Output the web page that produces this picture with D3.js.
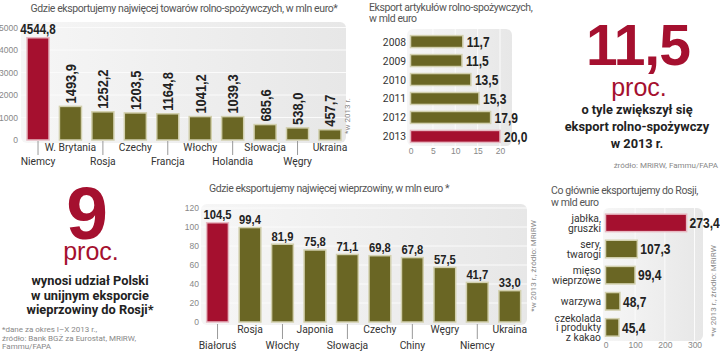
<!DOCTYPE html>
<html>
<head>
<meta charset="utf-8">
<script src="https://cdn.jsdelivr.net/npm/d3@7"></script>
<style>
  body { margin: 0; background: #fff; }
  svg { display: block; font-family: Roboto, "Liberation Sans", sans-serif; }
  .title { font-size: 10.5px; fill: #555; letter-spacing: -0.4px; }
  .tick text { fill: #888; font-size: 8.5px; }
  .val { font-family: "Liberation Sans", Arial, sans-serif; font-weight: bold; fill: #222; }
  .cat { font-size: 10.3px; fill: #333; }
  .note { font-size: 8px; fill: #888; }
  .big { font-weight: bold; font-size: 12.8px; fill: #222; }
</style>
</head>
<body>
<svg id="chart" width="720" height="352"></svg>
<script>
// dane
const exportCountries = ["Niemcy", "W. Brytania", "Rosja", "Czechy", "Francja", "Włochy", "Holandia", "Słowacja", "Węgry", "Ukraina"];
const exportValues = [4544.8, 1493.9, 1252.2, 1203.5, 1164.8, 1041.2, 1039.3, 685.6, 538.0, 457.7];
const exportTicks = [0, 1000, 2000, 3000, 4000, 5000];

const years = ["2008", "2009", "2010", "2011", "2012", "2013"];
const yearValues = [11.7, 11.5, 13.5, 15.3, 17.9, 20.0];
const yearTicks = [0, 5, 10, 15, 20];

const porkCountries = ["Białoruś", "Rosja", "Włochy", "Japonia", "Słowacja", "Czechy", "Chiny", "Węgry", "Niemcy", "Ukraina"];
const porkValues = [104.5, 99.4, 81.9, 75.8, 71.1, 69.8, 67.8, 57.5, 41.7, 33.0];
const porkTicks = [0, 20, 40, 60, 80, 100, 120];

const russiaProducts = ["jabłka,|gruszki", "sery,|twarogi", "mięso|wieprzowe", "warzywa", "czekolada|i produkty|z kakao"];
const russiaValues = [273.4, 107.3, 99.4, 48.7, 45.4];
const russiaTicks = [0, 100, 200, 300];

const RED = "#a5102f", OLIVE = "#6a6624";
const fmt = d3.formatLocale({ decimal: ",", thousands: " ", grouping: [3], currency: ["", ""] }).format(".1f");

const svg = d3.select("#chart");
const defs = svg.append("defs");
const grad = defs.append("linearGradient").attr("id", "panel").attr("x1", 0).attr("x2", 1);
grad.append("stop").attr("offset", 0).attr("stop-color", "#f6f6f6");
grad.append("stop").attr("offset", 1).attr("stop-color", "#e7e7e7");

function panel(x0, y0, x1, y1) {
  svg.append("rect").attr("x", x0).attr("y", y0).attr("width", x1 - x0).attr("height", y1 - y0)
    .attr("rx", 6).attr("fill", "url(#panel)");
}
function barColor(i) { return i === 0 ? RED : OLIVE; }
function barStroke(i) { return i === 0 ? "#e7b9c2" : "#d2d0ae"; }

// wąskie pogrubione liczby (ściśnięte w poziomie)
function valText(x, y, txt, size, anchor, rot) {
  return svg.append("text").attr("class", "val")
    .attr("transform", `translate(${x},${y})${rot ? " rotate(-90)" : ""} scale(0.83,1)`)
    .attr("text-anchor", anchor || "start").attr("font-size", size).text(txt);
}

// ---- Wykres 1: towary rolno-spożywcze
{
  const x = d3.scaleBand().domain(exportCountries).range([21.8, 346.2]).paddingInner(0.32).paddingOuter(0.16);
  const y = d3.scaleLinear().domain([0, 5000]).range([140, 27.5]);
  panel(21, 22, 346, 143);
  svg.append("g").selectAll("line").data(exportTicks.slice(1)).join("line")
    .attr("x1", 21).attr("x2", 346).attr("y1", d => y(d)).attr("y2", d => y(d))
    .attr("stroke", "#fbfbfb").attr("stroke-width", 1);
  const ax = svg.append("g").attr("transform", "translate(18,0)")
    .call(d3.axisLeft(y).tickValues(exportTicks).tickFormat(d3.format("d")).tickSize(0).tickPadding(0));
  ax.select(".domain").remove();

  svg.append("text").attr("class", "title").attr("x", 184).attr("y", 12).attr("text-anchor", "middle")
    .text("Gdzie eksportujemy najwięcej towarów rolno-spożywczych, w mln euro*");

  exportCountries.forEach((c, i) => {
    const v = exportValues[i];
    const cx = x(c) + x.bandwidth() / 2;
    svg.append("rect").attr("x", x(c)).attr("y", y(v)).attr("width", x.bandwidth()).attr("height", y(0) - y(v))
      .attr("fill", barColor(i)).attr("stroke", barStroke(i)).attr("stroke-width", 1.5);
    if (i === 0) valText(cx, y(v) - 3.5, fmt(v), 14, "middle");
    else valText(cx + 5.5, y(v) - 3, fmt(v), 15.5, "start", true);
    const low = i % 2 === 0;
    if (low) {
      svg.append("line").attr("x1", cx).attr("x2", cx).attr("y1", y(0) + 1).attr("y2", y(0) + 15)
        .attr("stroke", "#999").attr("stroke-width", 1);
    }
    svg.append("text").attr("class", "cat").attr("x", cx).attr("y", y(0) + (low ? 25 : 11))
      .attr("text-anchor", "middle").text(c);
  });
  svg.append("text").attr("class", "note").attr("transform", "translate(350,116) rotate(-90)")
    .attr("text-anchor", "middle").text("*w 2013 r.");
}

// ---- Wykres 2: eksport w latach
{
  const y = d3.scaleBand().domain(years).range([32.1, 145.9]).paddingInner(0.37).paddingOuter(0.185);
  const x = d3.scaleLinear().domain([0, 20]).range([410.5, 500]);
  panel(407, 29, 512, 146);
  svg.append("g").selectAll("line").data(yearTicks.slice(1)).join("line")
    .attr("x1", d => x(d)).attr("x2", d => x(d)).attr("y1", 29).attr("y2", 146)
    .attr("stroke", "#fbfbfb");
  const ax = svg.append("g").attr("transform", "translate(0,146)")
    .call(d3.axisBottom(x).tickValues(yearTicks).tickSize(0).tickPadding(2));
  ax.select(".domain").remove();
  svg.append("text").attr("class", "title").attr("x", 369).attr("y", 11).text("Eksport artykułów rolno-spożywczych,");
  svg.append("text").attr("class", "title").attr("x", 369).attr("y", 22).text("w mld euro");

  years.forEach((yr, i) => {
    const v = yearValues[i];
    const cy = y(yr) + y.bandwidth() / 2;
    const last = i === years.length - 1;
    svg.append("rect").attr("x", x(0)).attr("y", y(yr)).attr("width", x(v) - x(0)).attr("height", y.bandwidth())
      .attr("fill", last ? RED : OLIVE)
      .attr("stroke", last ? "#e7b9c2" : "#d2d0ae").attr("stroke-width", 1.5);
    svg.append("text").attr("class", "cat").attr("x", 406).attr("y", cy + 4).attr("text-anchor", "end")
      .attr("font-size", 11).text(yr);
    valText(x(v) + 4, cy + 5.3, fmt(v), 14.5);
  });
}

// ---- Blok 11,5 proc.
{
  svg.append("text").attr("x", 638).attr("y", 65).attr("text-anchor", "middle")
    .attr("font-family", "Liberation Sans, sans-serif").attr("font-weight", "bold").attr("font-size", 57)
    .attr("fill", RED).attr("letter-spacing", -1).text("11,5");
  svg.append("text").attr("x", 639).attr("y", 96).attr("text-anchor", "middle")
    .attr("font-family", "Liberation Sans, sans-serif").attr("font-size", 25).attr("fill", RED).text("proc.");
  ["o tyle zwiększył się", "eksport rolno-spożywczy", "w 2013 r."].forEach((t, i) => {
    svg.append("text").attr("class", "big").attr("x", 637).attr("y", 114 + i * 17)
      .attr("text-anchor", "middle").text(t);
  });
  svg.append("text").attr("class", "note").attr("x", 718).attr("y", 168).attr("text-anchor", "end")
    .text("źródło: MRiRW, Fammu/FAPA");
}

// ---- Blok 9 proc.
{
  svg.append("text").attr("x", 87).attr("y", 239).attr("text-anchor", "middle")
    .attr("font-family", "Liberation Sans, sans-serif").attr("font-weight", "bold").attr("font-size", 75)
    .attr("fill", RED).text("9");
  svg.append("text").attr("x", 91).attr("y", 260).attr("text-anchor", "middle")
    .attr("font-family", "Liberation Sans, sans-serif").attr("font-size", 25).attr("fill", RED).text("proc.");
  ["wynosi udział Polski", "w unijnym eksporcie", "wieprzowiny do Rosji*"].forEach((t, i) => {
    svg.append("text").attr("class", "big").attr("x", 90).attr("y", 285 + i * 14.5)
      .attr("text-anchor", "middle").text(t);
  });
  ["*dane za okres I–X 2013 r.,", "źródło: Bank BGŻ za Eurostat, MRiRW,", "Fammu/FAPA"].forEach((t, i) => {
    svg.append("text").attr("class", "note").attr("x", 2).attr("y", 332 + i * 8.5).text(t);
  });
}

// ---- Wykres 5: wieprzowina
{
  const x = d3.scaleBand().domain(porkCountries).range([201.3, 526]).paddingInner(0.33).paddingOuter(0.165);
  const y = d3.scaleLinear().domain([0, 120]).range([322, 208]);
  panel(201, 204, 527, 325);
  svg.append("g").selectAll("line").data(porkTicks.slice(1)).join("line")
    .attr("x1", 201).attr("x2", 527).attr("y1", d => y(d)).attr("y2", d => y(d))
    .attr("stroke", "#fbfbfb");
  const ax = svg.append("g").attr("transform", "translate(199,0)")
    .call(d3.axisLeft(y).tickValues(porkTicks).tickSize(0).tickPadding(0));
  ax.select(".domain").remove();
  svg.append("text").attr("class", "title").attr("x", 329).attr("y", 192).attr("text-anchor", "middle")
    .text("Gdzie eksportujemy najwięcej wieprzowiny, w mln euro *");

  porkCountries.forEach((c, i) => {
    const v = porkValues[i];
    const cx = x(c) + x.bandwidth() / 2;
    svg.append("rect").attr("x", x(c)).attr("y", y(v)).attr("width", x.bandwidth()).attr("height", y(0) - y(v))
      .attr("fill", barColor(i)).attr("stroke", barStroke(i)).attr("stroke-width", 1.5);
    valText(cx, y(v) - 3.5, fmt(v), 13.5, "middle");
    const low = i % 2 === 0;
    if (low) {
      svg.append("line").attr("x1", cx).attr("x2", cx).attr("y1", y(0) + 2).attr("y2", y(0) + 17)
        .attr("stroke", "#999");
    }
    svg.append("text").attr("class", "cat").attr("x", cx).attr("y", y(0) + (low ? 27 : 11))
      .attr("text-anchor", "middle").text(c);
  });
  svg.append("text").attr("class", "note").attr("transform", "translate(536,266) rotate(-90)")
    .attr("text-anchor", "middle").text("*w 2013 r., źródło: MRiRW");
}

// ---- Wykres 6: eksport do Rosji
{
  const y = d3.scaleBand().domain(russiaProducts).range([209.8, 340.5]).paddingInner(0.33).paddingOuter(0.165);
  const x = d3.scaleLinear().domain([0, 300]).range([605.5, 694.5]);
  panel(603, 208, 703, 341);
  svg.append("g").selectAll("line").data(russiaTicks.slice(1)).join("line")
    .attr("x1", d => x(d)).attr("x2", d => x(d)).attr("y1", 208).attr("y2", 341)
    .attr("stroke", "#fbfbfb");
  const ax = svg.append("g").attr("transform", "translate(0,342)")
    .call(d3.axisBottom(x).tickValues(russiaTicks).tickSize(0).tickPadding(0));
  ax.select(".domain").remove();
  svg.append("text").attr("class", "title").attr("x", 551).attr("y", 194).text("Co głównie eksportujemy do Rosji,");
  svg.append("text").attr("class", "title").attr("x", 551).attr("y", 206).text("w mld euro");

  russiaProducts.forEach((p, i) => {
    const v = russiaValues[i];
    const cy = y(p) + y.bandwidth() / 2;
    svg.append("rect").attr("x", x(0)).attr("y", y(p)).attr("width", x(v) - x(0)).attr("height", y.bandwidth())
      .attr("fill", barColor(i)).attr("stroke", barStroke(i)).attr("stroke-width", 1.5);
    const lines = p.split("|");
    lines.forEach((t, j) => {
      svg.append("text").attr("class", "cat").attr("x", 601).attr("text-anchor", "end")
        .attr("y", cy + 4 + (j - (lines.length - 1) / 2) * 9.8).attr("font-size", 10).text(t);
    });
    valText(x(v) + 3, cy + 5.3, fmt(v), 14.5);
  });
  svg.append("text").attr("class", "note").attr("transform", "translate(716,291) rotate(-90)")
    .attr("text-anchor", "middle").text("*w 2013 r., źródło: MRiRW");
}
</script>
</body>
</html>
